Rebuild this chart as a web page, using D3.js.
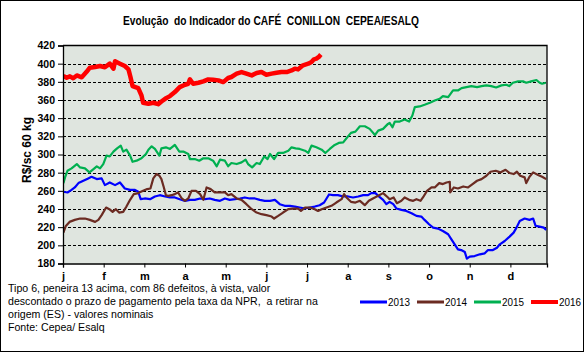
<!DOCTYPE html>
<html><head><meta charset="utf-8">
<script src="https://cdn.jsdelivr.net/npm/d3@7"></script>
<style>html,body{margin:0;padding:0;background:#fff;}svg{display:block;}text{white-space:pre;}</style>
</head><body>
<svg id="c" width="586" height="354"></svg>
<script>
// ---- DATA (x = position in months from 1 Jan, value in R$/sc 60 kg) ----
const monthLabels = ["j","f","m","a","m","j","j","a","s","o","n","d"];
const yTicks = [180,200,220,240,260,280,300,320,340,360,380,400,420];
const seriesNames = ["2013","2014","2015","2016"];

const m2013 = [0.01,0.11,0.21,0.29,0.38,0.50,0.62,0.70,0.83,0.95,1.03,1.15,1.28,1.40,1.52,1.65,1.77,1.85,1.91,2.01,2.14,2.26,2.38,2.51,2.63,2.75,2.87,3.00,3.12,3.24,3.37,3.49,3.61,3.73,3.86,
  3.98,4.10,4.23,4.35,4.47,4.59,4.72,4.84,4.96,5.09,5.21,5.33,5.45,5.58,5.70,5.82,5.95,6.07,6.19,6.31,6.42,6.48,6.54,6.64,6.76,6.89,7.01,7.13,7.26,7.38,7.50,7.58,7.68,7.75,7.87,7.95,
  8.03,8.12,8.20,8.32,8.44,8.57,8.69,8.81,8.89,9.00,9.10,9.22,9.34,9.47,9.55,9.63,9.71,9.79,9.88,9.93,10.00,10.12,10.25,10.37,10.45,10.57,10.67,10.74,10.86,10.98,11.08,11.15,11.23,11.35,11.47,11.56,11.62,11.72,11.82,11.88];
const v2013 = [259,258.2,261.1,263.7,268.5,271.1,273.7,275.5,272.9,273.7,266.3,269.2,266.3,269.2,262.6,261.1,261.1,259,250.8,251.6,250.8,253.8,255.2,253.8,252.7,252.7,250.8,249,250.1,250.1,251.6,250.8,251.6,250.1,249,
  251.6,250.1,250.8,251.6,252.7,251.6,251.6,250.1,249,249,250.1,245.3,243.5,243.5,242.7,241.6,240.5,241.6,242.7,244.2,247.1,251.6,256,255.3,255.3,253.8,253.8,252.7,253.8,255.3,255.3,257.5,257.5,254.5,250.1,245.3,
  247.9,245.3,240.5,239,237.9,235.4,232.4,231.7,228,223.2,219.5,218.4,215.8,212.2,206.6,201.1,195.6,194.8,192.6,185.3,187.5,188.2,190.1,191.2,194.8,194.8,197.4,201.1,204.8,209.6,214,219.5,226.9,229.5,228,229.5,221.4,220.6,219.5,217];

const m2014 = [0.01,0.07,0.16,0.29,0.42,0.54,0.66,0.79,0.87,0.95,1.06,1.14,1.22,1.30,1.38,1.48,1.56,1.65,1.74,1.85,1.97,2.07,2.15,2.22,2.30,2.37,2.42,2.48,2.53,2.59,2.67,2.75,2.83,2.92,3.00,3.08,3.16,3.27,3.37,3.45,3.53,3.63,3.73,3.84,
  3.98,4.06,4.14,4.27,4.39,4.51,4.64,4.76,4.88,5.00,5.13,5.19,5.29,5.41,5.54,5.66,5.78,5.85,5.95,6.07,6.19,6.27,6.36,6.48,6.60,6.72,6.85,6.91,6.97,7.08,7.19,7.30,7.42,7.52,7.62,7.75,7.87,7.99,
  8.03,8.13,8.21,8.32,8.40,8.51,8.61,8.69,8.79,8.85,8.95,9.06,9.14,9.25,9.34,9.43,9.51,9.52,9.61,9.71,9.84,9.96,10.07,10.18,10.29,10.41,10.51,10.64,10.75,10.88,10.98,11.08,11.16,11.24,11.35,11.39,11.47,11.56,11.68,11.78,11.88];
const v2014 = [214,221.4,225.8,228,229.5,229.5,228,225.8,228,233.2,241.6,239.8,236.8,239.8,236.1,236.8,242.7,250.1,256.4,257.5,260,261.9,262.6,273.7,278.5,276.6,272.9,263.7,255.2,254.5,255.2,256.4,258.2,251.6,249,251.6,260,260,256.4,250.1,263.7,261.9,258.2,258.2,
  258.2,255.2,256.4,251.6,250.1,245.3,239.8,236.1,234.3,233.2,231.7,229.5,232.4,236.1,239.8,240.5,240.5,237.9,241.6,241.6,239.8,237.9,239.8,241.6,243.5,247.1,250.8,256.4,252.7,247.9,247.1,249,244.2,249,251.6,254.5,257.5,252.7,
  250.8,252.7,246.4,249,252.7,250.1,249,250.8,249,252.7,260,263.7,263.7,268.5,267.4,269.2,270,258.2,263.7,262.6,264.8,263.7,267.4,271.1,272.9,276.6,281,282.1,280.3,283.2,279.6,278.5,281,276.6,274.8,268.5,275.5,280.3,277.4,275.5,272.9];

const m2015 = [0.01,0.05,0.11,0.21,0.34,0.42,0.54,0.65,0.75,0.83,0.91,0.99,1.07,1.15,1.24,1.33,1.42,1.48,1.56,1.65,1.71,1.81,1.93,2.04,2.10,2.18,2.26,2.37,2.42,2.53,2.63,2.75,2.86,2.97,3.08,3.12,3.24,3.35,3.45,3.57,3.69,3.78,3.86,
  3.98,4.06,4.14,4.27,4.39,4.49,4.55,4.65,4.76,4.84,4.95,5.03,5.09,5.19,5.29,5.41,5.54,5.62,5.72,5.82,5.95,6.03,6.11,6.23,6.36,6.45,6.56,6.68,6.78,6.89,6.97,7.08,7.19,7.30,7.42,7.54,7.67,7.75,7.87,7.99,
  8.03,8.10,8.16,8.28,8.40,8.51,8.59,8.65,8.77,8.89,9.02,9.14,9.26,9.34,9.47,9.59,9.71,9.80,9.92,10.04,10.18,10.29,10.41,10.53,10.65,10.78,10.90,10.97,11.06,11.19,11.31,11.39,11.51,11.64,11.72,11.78,11.87];
const v2015 = [268.5,274.8,282.1,284.7,289.5,285.8,284.7,280.3,284,287,284.7,289.5,298.7,298,303.1,306.8,309.8,303.1,305.3,298.7,292,293.2,295.8,300.6,305.3,309,306.1,298.7,306.8,307.9,306.1,310.5,303.1,303.1,300.6,295,295,293.2,295.8,295.8,293.2,287,294.3,
  293.2,287,290.6,289.5,291.3,294.3,289.5,285.8,290.6,289.5,298,295,300.6,295,301.7,301.7,304.2,307.9,306.8,306.1,304.2,301.7,309.8,307.9,305.3,301.7,306.1,310.5,312.7,313.4,317.9,323.8,325.2,331.1,331.1,328.2,321.5,326.3,328.2,333.7,
  334.8,330,336.3,336.3,338.5,336.3,342.9,352.1,352.9,354.7,356.9,359.5,361.3,364.3,363.2,370.5,370.5,373.1,374.2,375.3,374.2,375.3,376.1,375.3,373.8,376.1,376.8,375.3,379,380.5,380.5,379,380.5,382,379,377.9,379];

const m2016 = [0.01,0.09,0.17,0.25,0.34,0.46,0.58,0.66,0.79,0.91,1.03,1.15,1.24,1.28,1.40,1.52,1.61,1.66,1.71,1.85,1.93,1.97,2.10,2.22,2.34,2.42,2.51,2.63,2.75,2.87,3.00,3.08,3.12,3.20,3.33,3.45,3.57,3.69,3.82,3.94,
  4.06,4.14,4.27,4.39,4.51,4.64,4.76,4.88,5.00,5.13,5.25,5.37,5.50,5.62,5.70,5.78,5.90,6.03,6.11,6.17,6.23,6.29,6.34];
const v2016 = [386.4,384.5,386,384,387,385,391,395.6,396.3,397.4,396,400,394.5,402.6,400,397.4,393.7,385,375.3,373,365,357,355.8,357,355.4,358.4,361.3,364.3,368.7,374.2,376.8,377.9,382.7,377.9,379,380.5,382.7,382.3,381.6,379.7,
  384.2,385.3,389,390.8,389,387.1,389.7,390.8,387.8,389,390,390.8,390.8,392.6,394.5,393.7,398.2,400,401.8,404.8,405.5,407.4,410];

const seriesColors = ["#0000ff","#6b2b22","#00b050","#ff0000"];
const seriesWidths = [2.2,2.2,2.2,4.5];

const footLines = ["Tipo 6, peneira 13 acima, com 86 defeitos, à vista, valor",
  "descontado o prazo de pagamento pela taxa da NPR,  a retirar na",
  "origem (ES) - valores nominais",
  "Fonte: Cepea/ Esalq"];
const titleText = "Evolução  do Indicador do CAFÉ  CONILLON  CEPEA/ESALQ";
const yTitle = "R$/sc 60 kg";

// ---- DRAW ----
const svg = d3.select("#c");
const font = "'Liberation Sans', Arial, sans-serif";
const L = 63, R = 547, T = 45.5, B = 263.5;
const x = d3.scaleLinear().domain([0, 11.9]).range([L, R]);
const y = d3.scaleLinear().domain([180, 420]).range([B, T]);

svg.append("rect").attr("x",0.5).attr("y",0.5).attr("width",583).attr("height",351)
  .attr("fill","#fff").attr("stroke","#000").attr("stroke-width",1);

svg.append("rect").attr("x",L).attr("y",T).attr("width",R-L).attr("height",B-T).attr("fill","#dfe5df");

// gridlines
svg.append("g").selectAll("line").data(yTicks.filter(t=>t>180&&t<420)).join("line")
  .attr("x1",L).attr("x2",R).attr("y1",d=>Math.round(y(d))+0.5).attr("y2",d=>Math.round(y(d))+0.5)
  .attr("stroke","#000").attr("stroke-width",1).attr("stroke-dasharray","3,2");

// border (top, right)
svg.append("path").attr("d",`M${L},${T}H${R}V${B}`).attr("fill","none").attr("stroke","#000").attr("stroke-width",1.3);

// clip
svg.append("clipPath").attr("id","clip").append("rect").attr("x",L).attr("y",T).attr("width",R-L).attr("height",B-T);

const series = [[m2013,v2013],[m2014,v2014],[m2015,v2015],[m2016,v2016]];
const line = d3.line().x(d=>x(d[0])).y(d=>y(d[1]));
const gl = svg.append("g").attr("clip-path","url(#clip)");
series.forEach((s,i)=>{
  const pts = s[0].map((m,j)=>[m,s[1][j]]);
  gl.append("path").datum(pts).attr("d",line).attr("fill","none")
    .attr("stroke",seriesColors[i]).attr("stroke-width",seriesWidths[i]).attr("stroke-linejoin","round");
});

// y axis
const ya = d3.axisLeft(y).tickValues(yTicks).tickSize(5).tickPadding(3).tickFormat(d3.format("d"));
const gy = svg.append("g").attr("transform",`translate(${L},0)`).call(ya);
gy.select(".domain").attr("stroke","#000").attr("stroke-width",1.3);
gy.selectAll("text").attr("font-family",font).attr("font-size",10.5).attr("font-weight","bold").attr("fill","#000");

// x axis (month ticks)
const xa = d3.axisBottom(x).tickValues(d3.range(12)).tickSize(4).tickPadding(5).tickFormat(i=>monthLabels[i]);
const gx = svg.append("g").attr("transform",`translate(0,${B})`).call(xa);
gx.select(".domain").attr("stroke","#000").attr("stroke-width",1.3);
gx.selectAll("text").attr("font-family",font).attr("font-size",11).attr("font-weight","bold").attr("fill","#000");

// title
svg.append("text").attr("x",271).attr("y",25).attr("text-anchor","middle")
  .attr("font-family",font).attr("font-size",12).attr("font-weight","bold")
  .attr("textLength",296).attr("lengthAdjust","spacingAndGlyphs").text(titleText);

// y title
svg.append("text").attr("transform","translate(31,150) rotate(-90)").attr("text-anchor","middle")
  .attr("font-family",font).attr("font-size",12).attr("font-weight","bold").text(yTitle);

// footnote
svg.append("g").selectAll("text").data(footLines).join("text")
  .attr("x",8).attr("y",(d,i)=>292+i*13).attr("font-family",font).attr("font-size",10.6).text(d=>d);

// legend
const lg = svg.append("g");
const legX = [360,417,474,531];
seriesNames.forEach((n,i)=>{
  lg.append("line").attr("x1",legX[i]).attr("x2",legX[i]+27).attr("y1",302).attr("y2",302)
    .attr("stroke",seriesColors[i]).attr("stroke-width",i===3?4:3);
  lg.append("text").attr("x",legX[i]+28).attr("y",306).attr("font-family",font).attr("font-size",10)
    .attr("textLength",22).attr("lengthAdjust","spacingAndGlyphs").text(n);
});
</script>
</body></html>
